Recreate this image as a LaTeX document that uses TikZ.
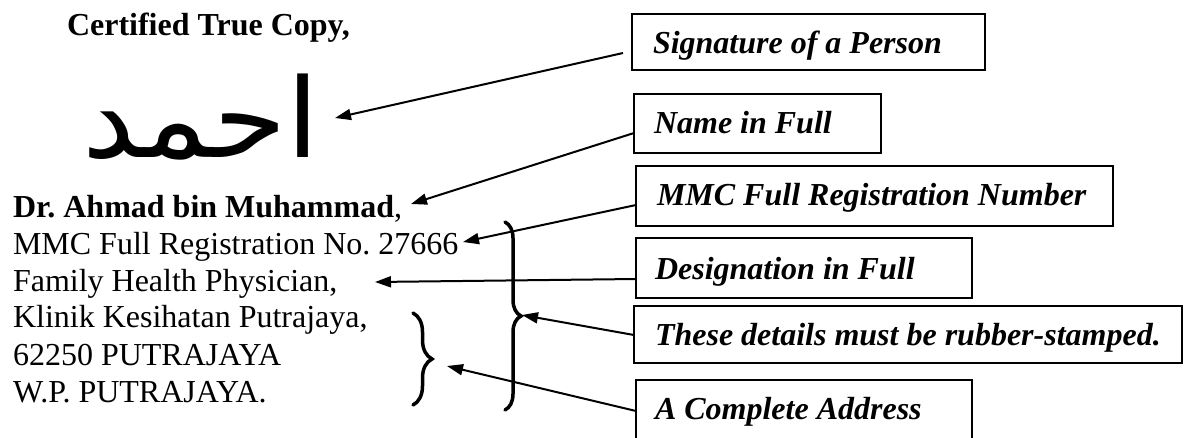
\documentclass[tikz,border=0pt]{standalone}
\usepackage{fontspec}
\setmainfont{Liberation Serif}
\newfontfamily\arabicfont[Script=Arabic]{DejaVu Sans}
\TeXXeTstate=1
\frenchspacing
\usetikzlibrary{arrows.meta,decorations.pathreplacing}
\begin{document}
\begin{tikzpicture}[x=1pt,y=-1pt,
  every node/.style={inner sep=0pt, outer sep=0pt},
  txt/.style={anchor=base west, font=\fontsize{32}{37}\selectfont},
  lbl/.style={anchor=base west, font=\fontsize{32}{37}\selectfont\bfseries\itshape},
  box/.style={draw, line width=2pt, anchor=north west},
  arr/.style={line width=2pt, -{Triangle[length=16pt,width=11pt]}},
  brc/.style={line width=3.5pt, line cap=round, decorate, decoration={brace, amplitude=#1}}]
\clip (0,0) rectangle (1187,437);
\fill[white] (0,0) rectangle (1187,437);

% left column
\node[txt, font=\fontsize{32}{37}\selectfont\bfseries] (cert) at (67,35) {Certified True Copy,};
\node[anchor=base east, xscale=1.08, font=\arabicfont\fontsize{110}{120}\selectfont] (sig) at (320,157) {\beginR احمد\endR};
\node[txt] (name) at (13,217) {\textbf{Dr. Ahmad bin Muhammad},};
\node[txt] (reg) at (13,254) {MMC Full Registration No. 27666};
\node[txt] (desig) at (13,291) {Family Health Physician,};
\node[txt] (kl) at (13,327) {Klinik Kesihatan Putrajaya,};
\node[txt] (post) at (13,365) {62250 PUTRAJAYA};
\node[txt] (wp) at (13,402) {W.P. PUTRAJAYA.};

% braces
\coordinate (bigtop) at (505,222);
\coordinate (bigbot) at (505,410);
\coordinate (bigtip) at (522,315);
\coordinate (smtop) at (413,313);
\coordinate (smbot) at (413,405);
\coordinate (smtip) at (447,366);
\draw[brc=16pt] (bigtop) -- (bigbot);
\draw[brc=19pt] (smtop) -- (smbot);

% boxes
\node[box, minimum width=353pt, minimum height=56pt] (b1) at (632,14) {};
\node[box, minimum width=247pt, minimum height=59pt] (b2) at (634,94) {};
\node[box, minimum width=477pt, minimum height=60pt] (b3) at (636,166) {};
\node[box, minimum width=336pt, minimum height=60pt] (b4) at (636,238) {};
\node[box, minimum width=548pt, minimum height=57pt] (b5) at (634,306) {};
\node[box, minimum width=336pt, minimum height=62pt] (b6) at (636,380) {};

\begin{scope}
\clip (632,14) rectangle (985,60);
\node[lbl] (l1) at (653,53) {Signature of a Person};
\end{scope}
\node[lbl] (l2) at (654,133) {Name in Full};
\node[lbl] (l3) at (657,205) {MMC Full Registration Number};
\node[lbl] (l4) at (655,279) {Designation in Full};
\node[lbl] (l5) at (655,345) {These details must be rubber-stamped.};
\node[lbl] (l6) at (655,419) {A Complete Address};

% tips
\coordinate (t1) at (335,118);
\coordinate (t2) at (411,204);
\coordinate (t3) at (463,242);
\coordinate (t4) at (375,282);

% arrows
\draw[arr] ([xshift=-9pt]l1.base -| b1.west) -- (t1);
\draw[arr] (l2.base -| b2.west) -- (t2);
\draw[arr] (l3.base -| b3.west) -- (t3);
\draw[arr] (l4.base -| b4.west) -- (t4);
\draw[arr] ([yshift=10pt]l5.base -| b5.west) -- (bigtip);
\draw[arr] ([yshift=8pt]l6.base -| b6.west) -- (smtip);
\end{tikzpicture}
\end{document}
